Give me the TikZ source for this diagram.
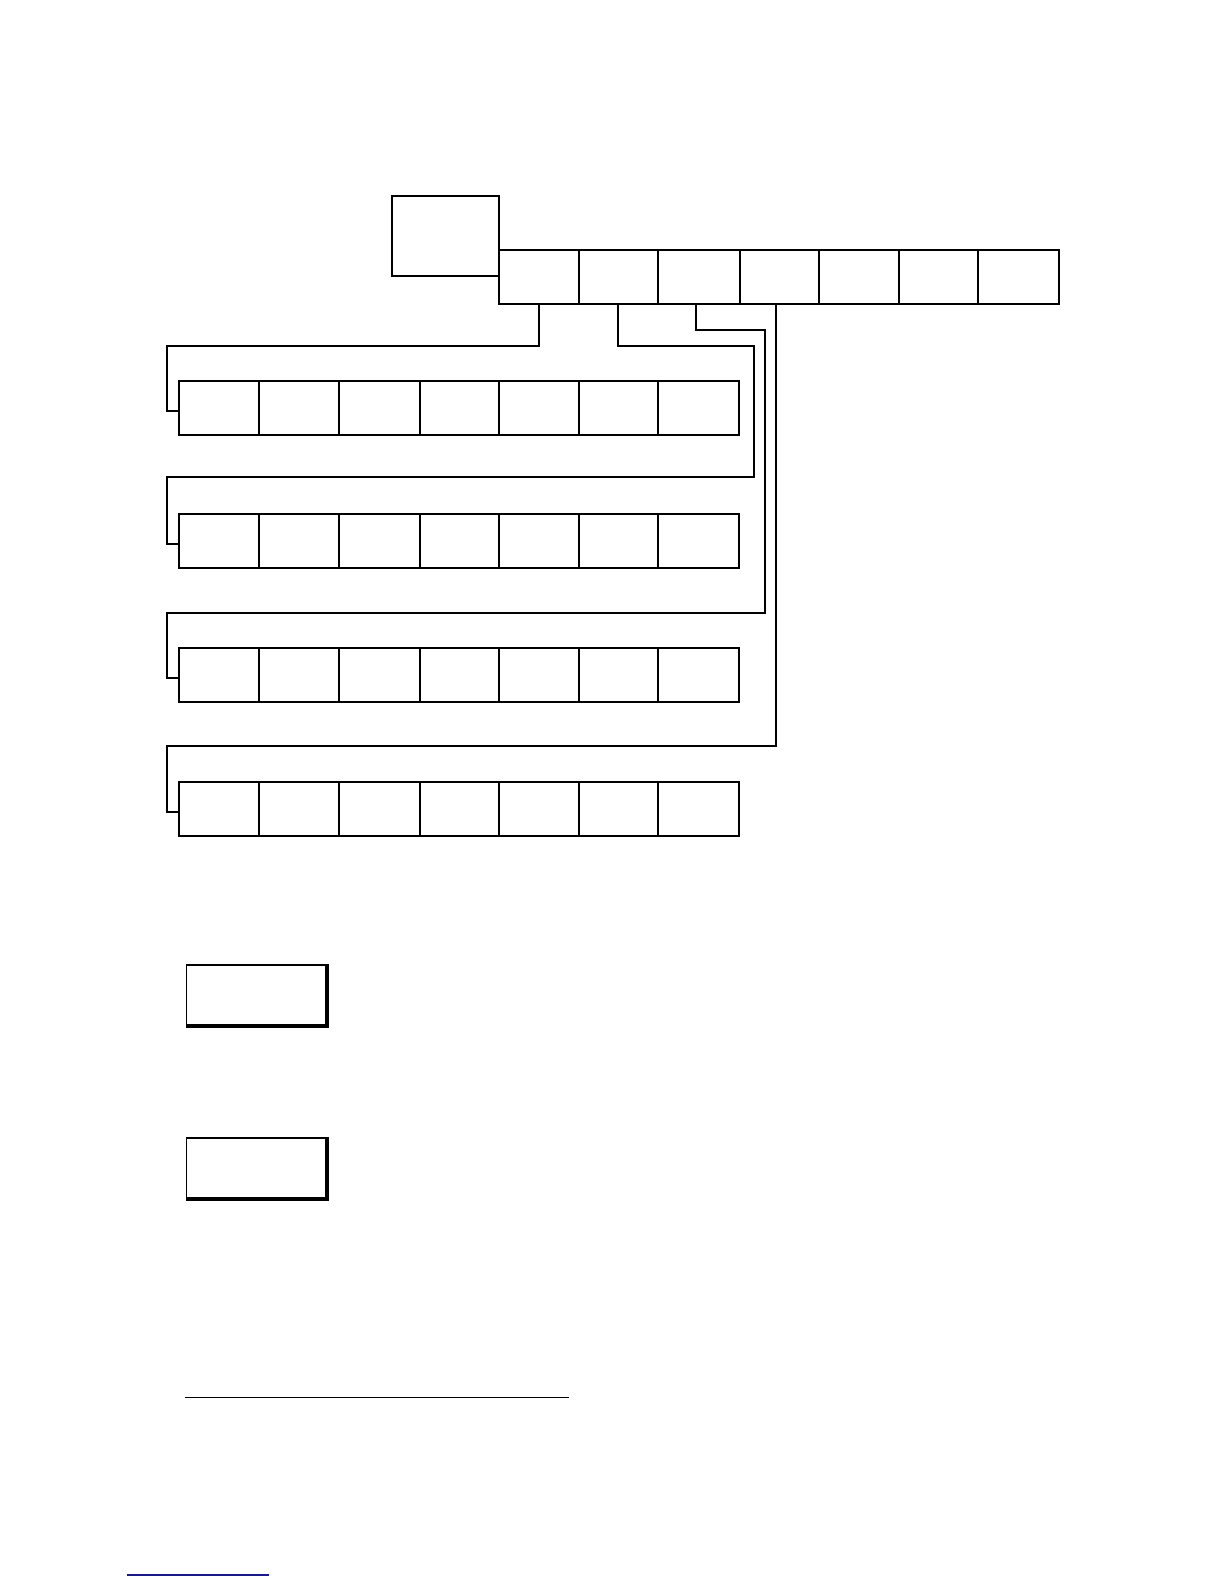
\documentclass[tikz,border=0pt]{standalone}
\usetikzlibrary{calc}
\definecolor{linkblue}{RGB}{25,25,140}
\tikzset{
  cell/.style={draw, line width=1pt, rectangle, inner sep=0pt, anchor=north west},
  conn/.style={line width=1pt},
  framebox/.style={draw, line width=0.8pt, rectangle, inner sep=0pt, anchor=north west},
  boxshadow/.style={line width=1.7pt},
  rule/.style={line width=0.7pt},
}
\begin{document}
\begin{tikzpicture}[x=0.5pt,y=-0.5pt]
\useasboundingbox (0,0) rectangle (1224,1584);
% top box
\node[cell, minimum width=53.5pt, minimum height=40pt] (top) at (391,195) {};
% top row
\def\tx{{498,577.7,656.7,739,817.7,898,977.3,1057.7}}
\foreach \i in {1,...,7}{
  \pgfmathsetmacro{\xa}{\tx[\i-1]}
  \pgfmathsetmacro{\xb}{\tx[\i]}
  \pgfmathsetmacro{\w}{(\xb-\xa)/2}
  \node[cell, minimum width=\w pt, minimum height=26.8pt] (t\i) at (\xa,249) {};
}
% rows
\def\rx{{177.7,257.7,337.7,418.5,498,577.7,656.7,737.8}}
\def\ry{{380,513,647,781}}
\foreach \r in {1,...,4}{
  \pgfmathsetmacro{\yy}{\ry[\r-1]}
  \foreach \i in {1,...,7}{
    \pgfmathsetmacro{\xa}{\rx[\i-1]}
    \pgfmathsetmacro{\xb}{\rx[\i]}
    \pgfmathsetmacro{\w}{(\xb-\xa)/2}
    \node[cell, minimum width=\w pt, minimum height=27pt] (r\r\i) at (\xa,\yy) {};
  }
}
% connectors
\coordinate (k1) at (166.7,345.7);
\coordinate (k2a) at (754.3,345.7);
\coordinate (k2b) at (166.7,476.7);
\coordinate (k3a) at (764.7,330);
\coordinate (k3b) at (166.7,612.7);
\coordinate (k4) at (166.7,745.7);
\draw[conn] (t1.south) |- (k1) |- ([yshift=-1.5pt]r11.west);
\draw[conn] (t2.south) |- (k2a) |- (k2b) |- ([yshift=-1.5pt]r21.west);
\draw[conn] ([xshift=-1.5pt]t3.south) |- (k3a) |- (k3b) |- ([yshift=-1.5pt]r31.west);
\draw[conn] ([xshift=-1.5pt]t4.south) |- (k4) |- ([yshift=-1.5pt]r41.west);
% framed boxes with shadow
\node[framebox, minimum width=69.8pt, minimum height=30pt] (b1) at (185.7,964.3) {};
\draw[boxshadow] (b1.north east) -- (b1.south east) -- (b1.south west);
\node[framebox, minimum width=69.8pt, minimum height=30pt] (b2) at (185.7,1137.3) {};
\draw[boxshadow] (b2.north east) -- (b2.south east) -- (b2.south west);
% footnote rule and link line
\coordinate (fa) at (185.3,1397.3);
\coordinate (fb) at (569.3,1397.3);
\draw[rule] (fa) -- (fb);
\coordinate (la) at (126.7,1575);
\coordinate (lb) at (269,1575);
\draw[rule, linkblue] (la) -- (lb);
\end{tikzpicture}
\end{document}
